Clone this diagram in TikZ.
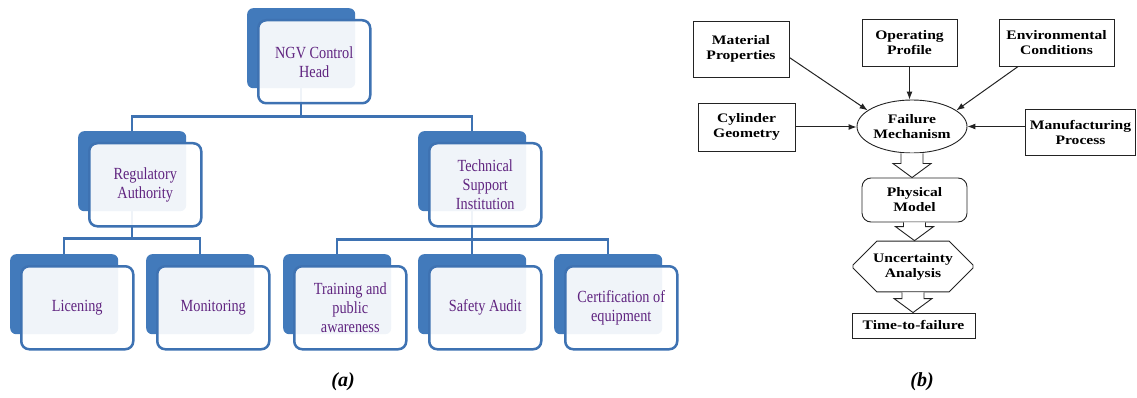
\documentclass[tikz,border=0pt]{standalone}
\usepackage{fontspec}
\setmainfont{Liberation Serif}
\newfontfamily\orgfont[FakeStretch=0.84]{Liberation Serif}
\newfontfamily\flowfont[FakeStretch=1.2]{Liberation Serif}
\usetikzlibrary{arrows.meta, shapes.geometric, shapes.misc, calc, backgrounds}
\definecolor{orgback}{RGB}{66,122,187}
\definecolor{orgline}{RGB}{62,114,178}
\definecolor{orgtext}{RGB}{96,36,128}
\definecolor{flowline}{RGB}{35,35,35}

\begin{document}
\begin{tikzpicture}[x=1pt, y=-1pt, >={Latex[length=8pt,width=6pt]},
  backbox/.style={fill=orgback, rounded corners=6pt, minimum width=108pt, minimum height=80pt, anchor=north west, inner sep=0pt},
  frontbox/.style={draw=orgline, line width=2.5pt, fill=white, fill opacity=0.92, text opacity=1, rounded corners=8pt,
    minimum width=112pt, minimum height=83pt, anchor=north west, inner sep=0pt, text=orgtext, align=center,
    font=\orgfont\fontsize{17}{19}\selectfont},
  orgconn/.style={draw=orgline, line width=2.5pt},
  flowbox/.style={draw=flowline, line width=0.9pt, align=center, inner sep=0pt,
    font=\flowfont\bfseries\fontsize{13}{15}\selectfont},
  flowarrow/.style={->, flowline, line width=1pt},
  blkline/.style={draw=flowline, line width=0.9pt, fill=white, line join=miter},
  caption/.style={font=\bfseries\itshape\fontsize{20}{22}\selectfont}]
  \useasboundingbox (0,0) rectangle (1137,398);

  % (a) organisation chart
  \foreach \nm/\x/\y/\txt in {ngv/247/8/{NGV Control\\Head}, reg/78/131/{Regulatory\\Authority},
      tsi/418/131/{Technical\\Support\\Institution}, lic/10/254/{Licening}, mon/146/254/{Monitoring},
      tra/283/254/{Training and\\public\\awareness}, saf/418/254/{Safety Audit},
      cer/554/254/{Certification of\\equipment}} {
    \node[backbox] (\nm b) at (\x,\y) {};
    \node[frontbox] (\nm f) at (\x+10,\y+11) {\txt};
  }
  \begin{pgfonlayer}{background}
    \draw[orgconn] (ngvb.south) -- ++(0,28) -| (regb.north);
    \draw[orgconn] (ngvb.south) -- ++(0,28) -| (tsib.north);
    \foreach \ch in {licb, monb} \draw[orgconn] (regb.south) -- ++(0,27) -| (\ch.north);
    \foreach \ch in {trab, safb, cerb} \draw[orgconn] (tsib.south) -- ++(0,28) -| (\ch.north);
  \end{pgfonlayer}
  \node[caption] (capa) at (343,382) {(a)};

  % (b) failure analysis flow
  \node[flowbox, minimum width=96pt, minimum height=56pt] (mat) at (741,49) {Material\\Properties};
  \node[flowbox, minimum width=95pt, minimum height=47pt] (opr) at (909.5,42.5) {Operating\\Profile};
  \node[flowbox, minimum width=115pt, minimum height=47pt] (env) at (1056.5,42.5) {Environmental\\Conditions};
  \node[flowbox, minimum width=97pt, minimum height=48pt] (cyl) at (746.5,127) {Cylinder\\Geometry};
  \node[flowbox, ellipse, minimum width=110pt, minimum height=53pt] (fail) at (912,126.5) {Failure\\Mechanism};
  \node[flowbox, minimum width=110pt, minimum height=46pt] (man) at (1080.5,132) {Manufacturing\\Process};
  \node[flowbox, rounded corners=9pt, minimum width=105pt, minimum height=44pt] (phy) at (914.5,200) {Physical\\Model};
  \node[flowbox, chamfered rectangle, chamfered rectangle xsep=12pt, chamfered rectangle ysep=12pt,
    minimum width=120pt, minimum height=38pt] (unc) at (913,266.5) {Uncertainty\\Analysis};
  \node[flowbox, minimum width=123pt, minimum height=25pt] (ttf) at (913.5,325.5) {Time-to-failure};

  \draw[flowarrow] (mat.-10) -- (fail.160);
  \draw[flowarrow] (opr) -- (opr |- fail.north);
  \draw[flowarrow] (env.212) -- (fail.20);
  \draw[flowarrow] (cyl.east) -- (cyl.east -| fail.west);
  \draw[flowarrow] (man.west |- fail.east) -- (fail.east);

  % hollow block arrows
  \foreach \a/\b in {fail/phy, phy/unc, unc/ttf}
    \draw[blkline] let \p1=(\a.south), \p2=(\b.north) in
      (\x1-11,\y1) -- (\x1-11,\y2+14) -- (\x1-19,\y2+14) -- (\x1,\y2) -- (\x1+19,\y2+14)
      -- (\x1+11,\y2+14) -- (\x1+11,\y1);

  \node[caption] (capb) at (922,382) {(b)};
\end{tikzpicture}
\end{document}
